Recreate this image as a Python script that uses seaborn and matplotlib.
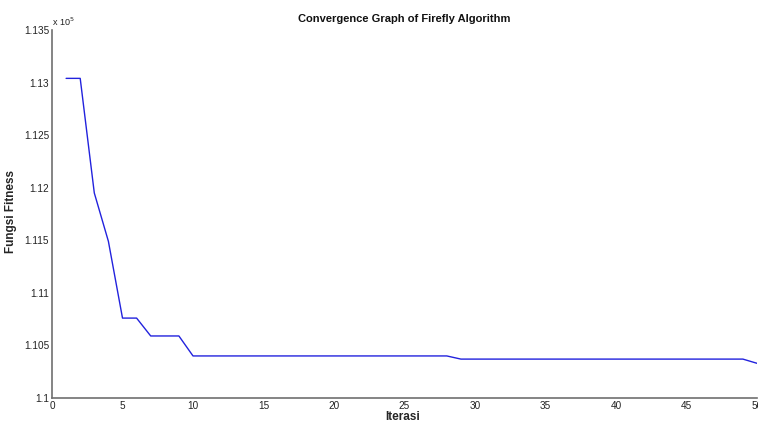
import matplotlib
matplotlib.use("Agg")
import matplotlib.pyplot as plt
import seaborn as sns
import pandas as pd
import numpy as np

# Data (fitness in units of 1e5)
iterations = list(range(1, 51))
fitness = ([1.1304, 1.1304, 1.1195, 1.1149, 1.1076, 1.1076, 1.1059, 1.1059, 1.1059]
           + [1.1040] * 19      # iterations 10..28
           + [1.1037] * 21      # iterations 29..49
           + [1.1033])          # iteration 50
x_ticks = list(range(0, 51, 5))
y_ticks = [1.1, 1.105, 1.11, 1.115, 1.12, 1.125, 1.13, 1.135]

df = pd.DataFrame({"Iterasi": iterations, "Fitness": fitness})

sns.set_style("white")
plt.rcParams['font.family'] = ['Liberation Sans', 'DejaVu Sans']

fig = plt.figure(figsize=(7.58, 4.26), dpi=100)
ax = fig.add_axes([52/758, 28/426, 705/758, 368/426])

sns.lineplot(data=df, x="Iterasi", y="Fitness", ax=ax, color="#2222dd", linewidth=1.0)

ax.set_xlim(0, 50)
ax.set_ylim(1.1, 1.135)
ax.set_xticks(x_ticks)
ax.set_yticks(y_ticks)
ax.set_xticklabels([str(t) for t in x_ticks], fontsize=7.2, color="#222222")
ax.set_yticklabels([f"{t:g}" for t in y_ticks], fontsize=7.2, color="#222222")
ax.tick_params(direction="in", length=5, width=0.8, color="black", pad=2)

for s in ["top", "right"]:
    ax.spines[s].set_visible(False)
for s in ["left", "bottom"]:
    ax.spines[s].set_color("#707070")
    ax.spines[s].set_linewidth(1.2)

ax.set_xlabel("Iterasi", fontsize=8.5, fontweight="bold")
ax.xaxis.set_label_coords((403 - 52) / 705, -(411 - 398) / 368)
ax.set_ylabel("Fungsi Fitness", fontsize=8.5, fontweight="bold")
ax.yaxis.set_label_coords((17 - 52) / 705, (398 - 212) / 368)
ax.set_title("Convergence Graph of Firefly Algorithm", fontsize=8, pad=6,
             fontweight="semibold", color="#111111")
ax.text(0.0, 1.006, "x 10$^5$", transform=ax.transAxes, fontsize=6.5,
        ha="left", va="bottom", color="#222222")

fig.savefig("out.png", dpi=100)
